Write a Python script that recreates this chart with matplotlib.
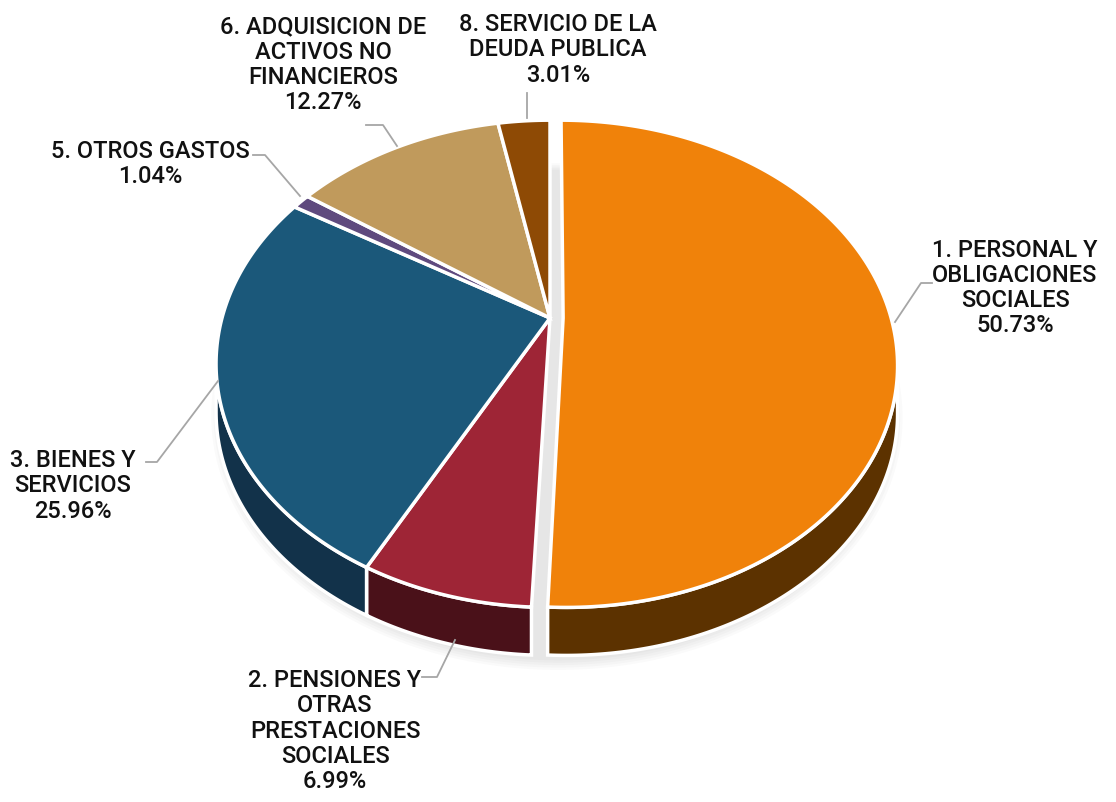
import numpy as np
import matplotlib
matplotlib.use("Agg")
import matplotlib.pyplot as plt
from matplotlib.patches import Polygon

# data
labels = ["1. PERSONAL Y\nOBLIGACIONES\nSOCIALES\n50.73%",
          "2. PENSIONES Y\nOTRAS\nPRESTACIONES\nSOCIALES\n6.99%",
          "3. BIENES Y\nSERVICIOS\n25.96%",
          "5. OTROS GASTOS\n1.04%",
          "6. ADQUISICION DE\nACTIVOS NO\nFINANCIEROS\n12.27%",
          "8. SERVICIO DE LA\nDEUDA PUBLICA\n3.01%"]
values = [50.73, 6.99, 25.96, 1.04, 12.27, 3.01]
top_colors = ["#F0820A", "#9E2536", "#1B587A", "#5F4A7E", "#C09A5C", "#8E4A05"]
wall_colors = ["#5C3200", "#4A1119", "#12324A", "#35284A", "#6E5530", "#4F2903"]
explode = [0.04, 0, 0, 0, 0, 0]

# label positions (pixel) and leader lines
label_xy = [(1015, 288), (335, 731), (73, 486), (150, 164), (323, 65), (558, 50)]
leaders = [[(895, 322), (921, 283), (932, 283)],
           [(455, 640), (437, 677), (422, 677)],
           [(218, 381), (157, 462), (146, 462)],
           [(300, 196), (265, 155), (253, 155)],
           [(397, 146), (383, 125), (366, 125)],
           [(527, 118), (527, 93)]]

# projection of the tilted pie (pixel space)
CX, CY, RX, RY, A = 550, 318, 328, 235, 0.188
DEPTH = 48
SIL = np.degrees(np.arcsin(A))  # silhouette angle


def proj(theta, r=1.0, du=0.0):
    t = np.radians(theta)
    u = r * np.cos(t) + du
    v = r * np.sin(t)
    w = 1 + A * v
    return CX + RX * u / w, CY - RY * v / w


fig = plt.figure(figsize=(11.16, 8.02), dpi=100)
ax = fig.add_axes([0, 0, 1, 1])
ax.set_xlim(0, 1116)
ax.set_ylim(802, 0)
ax.axis("off")

total = sum(values)
starts, ends = [], []
ang = 90.0
for v in values:
    starts.append(ang)
    ang -= 360 * v / total
    ends.append(ang)

# soft shadow under the base
full = np.linspace(0, 360, 300)
for k in range(5):
    grow = 2 + 2.5 * k
    xs, ys = proj(full, 1.0, 0.02)
    xs = CX + 4 + (xs - CX - 4) * (1 + grow / 340)
    ys = CY + (ys - CY) * (1 + grow / 300) + DEPTH + 3
    ax.add_patch(Polygon(list(zip(xs, ys)), closed=True, fc="#000000", ec="none",
                         alpha=0.02, zorder=0))

# side walls (front half only)
for i in range(len(values)):
    a0 = min(starts[i], -SIL)
    a1 = max(ends[i], -180 + SIL)
    if a0 <= a1:
        continue
    th = np.linspace(a0, a1, 120)
    xs, ys = proj(th, 1.0, explode[i])
    pts = list(zip(xs, ys)) + list(zip(xs[::-1], ys[::-1] + DEPTH))
    ax.add_patch(Polygon(pts, closed=True, fc=wall_colors[i], ec="white", lw=2.5, zorder=1))

# top faces
for i in range(len(values)):
    th = np.linspace(starts[i], ends[i], 200)
    xs, ys = proj(th, 1.0, explode[i])
    cx0, cy0 = proj(0, 0.0, explode[i])
    pts = [(cx0, cy0)] + list(zip(xs, ys))
    ax.add_patch(Polygon(pts, closed=True, fc=top_colors[i], ec="white", lw=2.5,
                         joinstyle="miter", zorder=2))

# labels and leader lines
for i in range(len(values)):
    lx, ly = zip(*leaders[i])
    ax.plot(lx, ly, color="#A6A6A6", lw=1.3, zorder=3)
    ax.text(label_xy[i][0], label_xy[i][1], labels[i], ha="center", va="center",
            fontsize=17, linespacing=1.12, color="#111111", fontweight="medium",
            family=["Roboto", "DejaVu Sans"], zorder=4)

fig.savefig("out.png", dpi=100)
